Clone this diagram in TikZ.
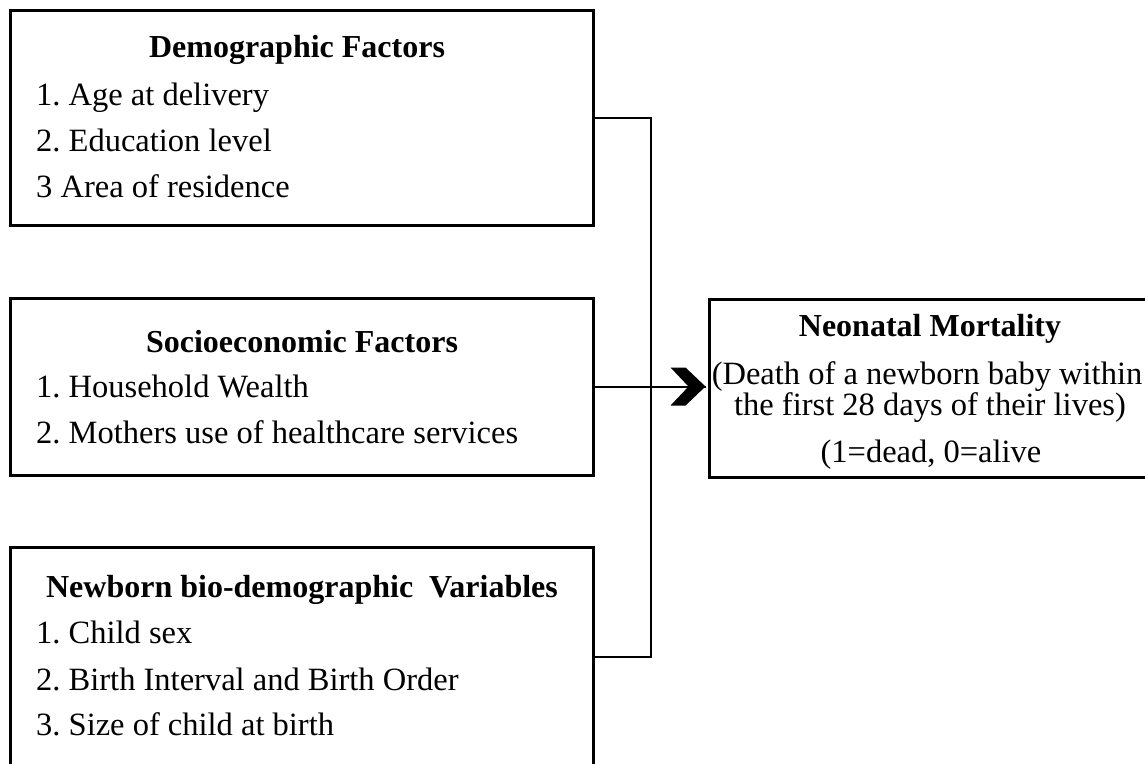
\documentclass[tikz,border=0pt]{standalone}
\usepackage{fontspec}
\setmainfont{Liberation Serif}
\usetikzlibrary{calc}
\frenchspacing
\begin{document}
\begin{tikzpicture}[x=1pt,y=-1pt,
  box/.style={draw, line width=3pt, minimum width=583pt, inner sep=0pt},
  ttl/.style={font=\fontsize{32}{36}\selectfont\bfseries, anchor=base, inner sep=0pt},
  item/.style={font=\fontsize{32.5}{36}\selectfont, anchor=base west, inner sep=0pt},
  ctr/.style={font=\fontsize{32.5}{36}\selectfont, anchor=base, inner sep=0pt},
  conn/.style={line width=2pt}]
\useasboundingbox (0,0) rectangle (1145,763);
% boxes
\node[box, minimum height=215pt] (demo) at (301.5,117.5) {};
\node[box, minimum height=177pt] (socio) at (301.5,386.5) {};
\node[box, minimum height=220pt] (newb) at (301.5,657) {};
\node[box, minimum width=442pt, minimum height=178pt] (neo) at (930,388) {};
% texts
\node[ttl] (t1) at (297,57) {Demographic Factors};
\node[item] (a1) at (36,105) {1. Age at delivery};
\node[item] (a2) at (36,151) {2. Education level};
\node[item] (a3) at (36,197) {3 Area of residence};
\node[ttl] (t2) at (302,352) {Socioeconomic Factors};
\node[item] (b1) at (36,397) {1. Household Wealth};
\node[item] (b2) at (36,443) {2. Mothers use of healthcare services};
\node[ttl] (t3) at (302,597) {Newborn bio-demographic~ Variables};
\node[item] (c1) at (36,643) {1. Child sex};
\node[item] (c2) at (36,690) {2. Birth Interval and Birth Order};
\node[item] (c3) at (36,735) {3. Size of child at birth};
\node[ttl] (t4) at (930,336) {Neonatal Mortality};
\node[ctr] (d1) at (927,384) {(Death of a newborn baby within};
\node[ctr] (d2) at (930,415) {the first 28 days of their lives)};
\node[ctr] (d3) at (931,462) {(1=dead, 0=alive};
% connectors
\coordinate (j) at (651,387);
\draw[conn] (demo.east) -| (j);
\draw[conn] (newb.east) -| (j);
\coordinate (tip) at ($(socio.east -| neo.west)+(-2,0)$);
\draw[conn] (socio.east) -- (tip);
\fill ($(tip)+(-35,-19)$) -- ($(tip)+(-20,-19)$) -- (tip) -- ($(tip)+(-20,19)$) -- ($(tip)+(-35,19)$) -- ($(tip)+(-17,0)$) -- cycle;
\end{tikzpicture}
\end{document}
